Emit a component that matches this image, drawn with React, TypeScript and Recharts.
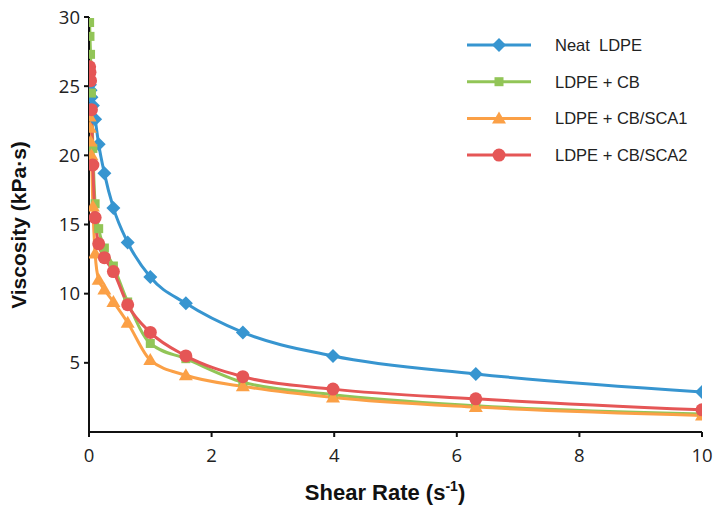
import { Label, Line, LineChart, XAxis, YAxis } from "recharts";

const shearRates = [
  0.01, 0.0158, 0.0251, 0.0398, 0.0631, 0.1, 0.158, 0.251, 0.398, 0.631, 1, 1.58, 2.51, 3.98, 6.31, 10,
];
const neatLdpe = [25.4, 25.1, 24.7, 24.2, 23.6, 22.6, 20.8, 18.7, 16.2, 13.7, 11.2, 9.3, 7.2, 5.5, 4.2, 2.9];
const ldpeCb = [29.6, 28.6, 27.3, 24.5, 20.5, 16.5, 14.7, 13.3, 12.0, 9.4, 6.4, 5.3, 3.6, 2.7, 1.9, 1.3];
const ldpeCbSca1 = [22.8, 22.0, 21.0, 20.0, 16.3, 12.9, 11.0, 10.3, 9.4, 7.9, 5.2, 4.1, 3.3, 2.5, 1.8, 1.2];
const ldpeCbSca2 = [26.4, 26.0, 25.4, 23.3, 19.3, 15.5, 13.6, 12.6, 11.6, 9.2, 7.2, 5.5, 4.0, 3.1, 2.4, 1.6];

const xTicks = [0, 2, 4, 6, 8, 10];
const yTicks = [5, 10, 15, 20, 25, 30];

const SERIES = [
  { key: "neat", name: "Neat\u00a0 LDPE", color: "#3795d0", shape: "diamond" },
  { key: "cb", name: "LDPE + CB", color: "#92c557", shape: "square" },
  { key: "sca1", name: "LDPE + CB/SCA1", color: "#fba046", shape: "triangle" },
  { key: "sca2", name: "LDPE + CB/SCA2", color: "#e55656", shape: "circle" },
];

const data = shearRates.map((rate, i) => ({
  rate,
  neat: neatLdpe[i],
  cb: ldpeCb[i],
  sca1: ldpeCbSca1[i],
  sca2: ldpeCbSca2[i],
}));

function Marker({ cx, cy, shape, color }: { cx: number; cy: number; shape: string; color: string }) {
  if (cx == null || cy == null) return null;
  if (shape === "diamond") {
    return <polygon points={`${cx},${cy - 7} ${cx + 7},${cy} ${cx},${cy + 7} ${cx - 7},${cy}`} fill={color} />;
  }
  if (shape === "square") {
    return <rect x={cx - 4.5} y={cy - 4.5} width={9} height={9} fill={color} />;
  }
  if (shape === "triangle") {
    return <polygon points={`${cx},${cy - 7} ${cx + 7},${cy + 5} ${cx - 7},${cy + 5}`} fill={color} />;
  }
  return <circle cx={cx} cy={cy} r={6.5} fill={color} />;
}

// legend drawn as an overlay so it doesn't shrink the plot area
function ChartLegend() {
  return (
    <svg width={250} height={150} style={{ position: "absolute", left: 467, top: 30 }}>
      {SERIES.map((s, i) => {
        const y = 15 + i * 36.7;
        return (
          <g key={s.key}>
            <line x1={0} x2={64} y1={y} y2={y} stroke={s.color} strokeWidth={3} />
            <Marker cx={32} cy={y} shape={s.shape} color={s.color} />
            <text
              x={88}
              y={y + 6}
              fontFamily="'Liberation Sans', Arial, sans-serif"
              fontSize={16.5}
              fill="#222"
            >
              {s.name}
            </text>
          </g>
        );
      })}
    </svg>
  );
}

const tickStyle = { fontFamily: "'Open Sans', 'Noto Sans', sans-serif", fontSize: 18.5, fill: "#222" };

export default function App() {
  return (
    <div style={{ position: "absolute", left: 0, top: 0, width: 720, height: 505, background: "#fff" }}>
      <LineChart width={720} height={505} data={data} margin={{ top: 17, right: 18, left: 29, bottom: 23 }}>
        <XAxis
          type="number"
          dataKey="rate"
          domain={[0, 10]}
          ticks={xTicks}
          allowDataOverflow
          height={50}
          stroke="#111"
          strokeWidth={2}
          tickSize={5}
          tickMargin={12}
          tick={tickStyle}
        >
          <Label
            content={({ viewBox }: any) => (
              <text
                x={385}
                y={viewBox.y + 68}
                textAnchor="middle"
                fontFamily="'Liberation Sans', Arial, sans-serif"
                fontWeight="bold"
                fontSize={22}
                fill="#111"
              >
                Shear Rate (s
                <tspan fontSize={14} dy={-9}>-1</tspan>
                <tspan dy={9}>)</tspan>
              </text>
            )}
          />
        </XAxis>
        <YAxis
          type="number"
          domain={[0, 30]}
          ticks={yTicks}
          width={60}
          stroke="#111"
          strokeWidth={2}
          tickSize={5}
          tickMargin={4}
          tick={tickStyle}
        >
          <Label
            content={() => (
              <text
                x={19}
                y={225}
                transform="rotate(-90 19 225)"
                dy={7}
                textAnchor="middle"
                fontFamily="'Liberation Sans', Arial, sans-serif"
                fontWeight="bold"
                fontSize={21}
                fill="#111"
              >
                Viscosity (kPa·s)
              </text>
            )}
          />
        </YAxis>
        {SERIES.map((s) => (
          <Line
            key={s.key}
            type="monotone"
            dataKey={s.key}
            name={s.name}
            stroke={s.color}
            strokeWidth={3}
            isAnimationActive={false}
            dot={(props: any) => (
              <Marker key={`${s.key}-${props.index}`} cx={props.cx} cy={props.cy} shape={s.shape} color={s.color} />
            )}
            activeDot={false}
          />
        ))}
      </LineChart>
      <ChartLegend />
    </div>
  );
}
